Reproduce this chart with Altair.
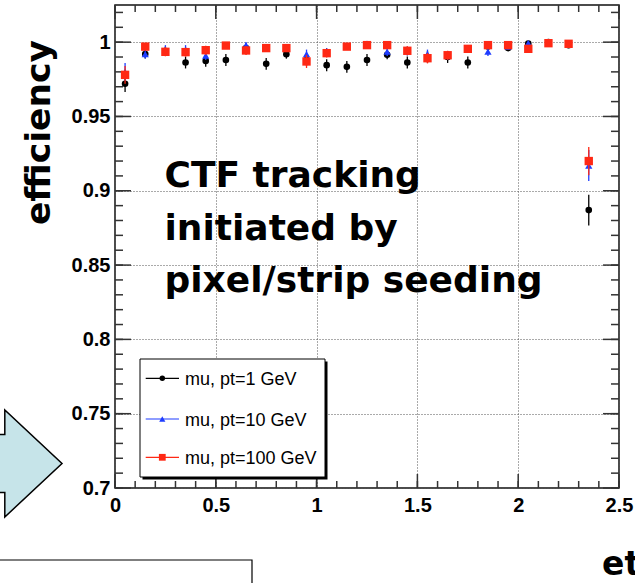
import altair as alt
import pandas as pd

# ---------------- data ----------------
eta = [0.05, 0.15, 0.25, 0.35, 0.45, 0.55, 0.65, 0.75, 0.85, 0.95, 1.05, 1.15,
       1.25, 1.35, 1.45, 1.55, 1.65, 1.75, 1.85, 1.95, 2.05, 2.15, 2.25, 2.35]

eff_pt1 = [0.972, 0.992, 0.994, 0.9863, 0.9874, 0.988, 0.996, 0.9854, 0.9919, 0.988,
           0.9845, 0.9834, 0.988, 0.9915, 0.9863, 0.990, 0.990, 0.9863, 0.997, 0.996,
           0.999, 1.000, 0.998, 0.887]
err_pt1 = [0.0055, 0.003, 0.003, 0.004, 0.004, 0.004, 0.003, 0.004, 0.003, 0.004,
           0.004, 0.004, 0.004, 0.003, 0.004, 0.004, 0.004, 0.004, 0.002, 0.002,
           0.0015, 0.001, 0.002, 0.0104]

eff_pt10 = [0.980, 0.992, 0.995, 0.995, 0.991, 0.998, 0.998, 0.996, 0.996, 0.992,
            0.993, 0.997, 0.999, 0.9937, 0.994, 0.992, 0.991, 0.996, 0.9937, 0.997,
            0.9993, 1.000, 0.999, 0.917]
err_pt10 = [0.006, 0.003, 0.003, 0.003, 0.003, 0.002, 0.002, 0.002, 0.002, 0.003,
            0.003, 0.002, 0.0015, 0.003, 0.003, 0.003, 0.003, 0.002, 0.003, 0.002,
            0.0015, 0.001, 0.0015, 0.0105]

eff_pt100 = [0.978, 0.997, 0.9935, 0.9933, 0.9946, 0.9977, 0.9944, 0.996, 0.996, 0.987,
             0.9926, 0.997, 0.998, 0.998, 0.9942, 0.9892, 0.9912, 0.9955, 0.998, 0.998,
             0.9955, 0.9993, 0.9989, 0.920]
err_pt100 = [0.006, 0.002, 0.003, 0.003, 0.003, 0.002, 0.003, 0.002, 0.002, 0.0044,
             0.003, 0.002, 0.002, 0.002, 0.003, 0.0035, 0.003, 0.002, 0.0015, 0.0015,
             0.002, 0.001, 0.001, 0.0095]

series_names = ["mu, pt=1 GeV", "mu, pt=10 GeV", "mu, pt=100 GeV"]
series_colors = ["#000000", "#1e3cff", "#ff2814"]
series_shapes = ["circle", "triangle-up", "square"]
series_sizes = [44, 52, 70]
legend_sizes = [30, 38, 46]
series_eff = [eff_pt1, eff_pt10, eff_pt100]
series_err = [err_pt1, err_pt10, err_pt100]

x_major = [0, 0.5, 1, 1.5, 2, 2.5]
x_minor = [round(0.1 * i, 1) for i in range(26)]
y_major = [0.7, 0.75, 0.8, 0.85, 0.9, 0.95, 1.0]
y_minor = [round(0.70 + 0.01 * i, 2) for i in range(33)]

annotation_lines = ["CTF tracking", "initiated by", "pixel/strip seeding"]
y_title = "efficiency"
x_title = "eta"

# ---------------- layout ----------------
W, H = 504, 483
BIG_FONT = "DejaVu Sans"
LABEL_FONT = "Liberation Sans"
TICK_COLOR = "#333333"

rows = []
for name, effs, errs in zip(series_names, series_eff, series_err):
    for e, v, d in zip(eta, effs, errs):
        rows.append({"series": name, "eta": e, "eff": v, "lo": v - d, "hi": v + d})
df = pd.DataFrame(rows)
deco = pd.DataFrame({"k": [0]})

x_scale = alt.Scale(domain=[0, 2.5], nice=False, zero=False)
y_scale = alt.Scale(domain=[0.7, 1.025], nice=False, zero=False)

# main axes (labels + dotted grid)
main = alt.Chart(df).mark_point(opacity=0).encode(
    x=alt.X("eta:Q", scale=x_scale,
            axis=alt.Axis(orient="bottom", values=x_major, format="~g", ticks=False,
                          tickSize=0, labelPadding=7, domain=False, grid=True,
                          gridDash=[1, 2], gridColor="#555555", gridWidth=1, title=None,
                          labelFlush=False, labelOverlap=False)),
    y=alt.Y("eff:Q", scale=y_scale,
            axis=alt.Axis(orient="left", values=y_major, format="~g", ticks=False,
                          tickSize=0, labelPadding=5, domain=False, grid=True,
                          gridDash=[1, 2], gridColor="#555555", gridWidth=1, title=None,
                          labelFlush=False, labelOverlap=False)),
)

# inward ROOT-style ticks on all four frame sides, positioned through the scales
xt_major = pd.DataFrame({"v": x_major})
xt_minor = pd.DataFrame({"v": x_minor})
yt_major = pd.DataFrame({"v": y_major})
yt_minor = pd.DataFrame({"v": y_minor})


def xticks(data, length):
    bottom = alt.Chart(data).mark_rule(color=TICK_COLOR, strokeWidth=1.5).encode(
        x=alt.X("v:Q", scale=x_scale, axis=None), y=alt.value(H), y2=alt.value(H - length))
    top = alt.Chart(data).mark_rule(color=TICK_COLOR, strokeWidth=1.5).encode(
        x=alt.X("v:Q", scale=x_scale, axis=None), y=alt.value(0), y2=alt.value(length))
    return [bottom, top]


def yticks(data, length):
    left = alt.Chart(data).mark_rule(color=TICK_COLOR, strokeWidth=1.5).encode(
        y=alt.Y("v:Q", scale=y_scale, axis=None), x=alt.value(0), x2=alt.value(length))
    right = alt.Chart(data).mark_rule(color=TICK_COLOR, strokeWidth=1.5).encode(
        y=alt.Y("v:Q", scale=y_scale, axis=None), x=alt.value(W), x2=alt.value(W - length))
    return [left, right]


tick_layers = xticks(xt_major, 14) + xticks(xt_minor, 7) + yticks(yt_major, 16) + yticks(yt_minor, 8)

series_layers = []
for name, color, shape, size in zip(series_names, series_colors, series_shapes, series_sizes):
    sub = df[df["series"] == name]
    bars = alt.Chart(sub).mark_rule(color=color, strokeWidth=1.3).encode(
        x=alt.X("eta:Q", scale=x_scale, axis=None),
        y=alt.Y("lo:Q", scale=y_scale, axis=None),
        y2="hi:Q",
    )
    pts = alt.Chart(sub).mark_point(shape=shape, filled=True, color=color, size=size,
                                    opacity=1).encode(
        x=alt.X("eta:Q", scale=x_scale, axis=None),
        y=alt.Y("eff:Q", scale=y_scale, axis=None),
    )
    series_layers += [bars, pts]

# ---------------- decorations ----------------
ARROW = "M -1 -0.47 L 0.07 -0.47 L 0.07 -0.87 L 1 0 L 0.07 0.87 L 0.07 0.47 L -1 0.47 Z"
arrow = alt.Chart(deco).mark_point(shape=ARROW, size=15129, filled=True, fill="#c6e4e9",
                                   stroke="#000000", strokeWidth=1.5, opacity=1).encode(
    x=alt.value(-114.5), y=alt.value(458.5))

box = alt.Chart(deco).mark_rect(fill="white", stroke="black", strokeWidth=1.2).encode(
    x=alt.value(-125), x2=alt.value(137), y=alt.value(555), y2=alt.value(600))

annotation = alt.Chart(deco).mark_text(
    text=annotation_lines, font=BIG_FONT, fontWeight="bold", fontSize=36, lineHeight=52.5,
    align="left", baseline="alphabetic", color="black").encode(
    x=alt.value(49.5), y=alt.value(182))

ytitle = alt.Chart(deco).mark_text(
    text=y_title, font=BIG_FONT, fontWeight="bold", fontSize=34.5, angle=270,
    align="center", baseline="alphabetic", color="black").encode(
    x=alt.value(-65), y=alt.value(127.5))

xtitle = alt.Chart(deco).mark_text(
    text=x_title, font=BIG_FONT, fontWeight="bold", fontSize=33,
    align="left", baseline="alphabetic", color="black").encode(
    x=alt.value(487), y=alt.value(570))

legend_shadow = alt.Chart(deco).mark_rect(fill="black").encode(
    x=alt.value(27.5), x2=alt.value(212.5), y=alt.value(356.5), y2=alt.value(474.5))
legend_box = alt.Chart(deco).mark_rect(fill="white", stroke="black", strokeWidth=1).encode(
    x=alt.value(25), x2=alt.value(210), y=alt.value(354), y2=alt.value(472))

legend_rows_y = [373.3, 414.0, 452.3]
legend_layers = [legend_shadow, legend_box]
for name, color, shape, lsize, ry in zip(series_names, series_colors, series_shapes,
                                         legend_sizes, legend_rows_y):
    legend_layers.append(alt.Chart(deco).mark_rule(color=color, strokeWidth=1.2).encode(
        x=alt.value(30.7), x2=alt.value(64), y=alt.value(ry)))
    legend_layers.append(alt.Chart(deco).mark_point(shape=shape, filled=True, color=color,
                                                    size=lsize, opacity=1).encode(
        x=alt.value(47.3), y=alt.value(ry)))
    legend_layers.append(alt.Chart(deco).mark_text(
        text=name, font=LABEL_FONT, fontSize=18, align="left", baseline="alphabetic",
        color="black").encode(x=alt.value(70), y=alt.value(ry + 6.5)))

chart = alt.layer(
    main, *tick_layers, annotation, *series_layers, *legend_layers,
    arrow, box, ytitle, xtitle,
).resolve_axis(
    x="independent", y="independent"
).properties(
    width=W, height=H,
    autosize=alt.AutoSizeParams(type="none"),
    padding={"left": 115, "top": 5, "right": 16, "bottom": 95},
    background="white",
).configure_view(
    stroke="#111111", strokeWidth=1.5
).configure_axis(
    labelFont=LABEL_FONT, labelFontWeight="bold", labelFontSize=20, labelColor="black",
)

chart.save("out.html", embed_options={"renderer": "svg", "actions": False})
